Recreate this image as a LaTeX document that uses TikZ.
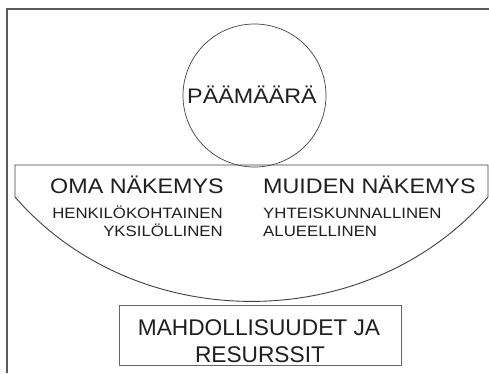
\documentclass[tikz,border=0pt]{standalone}
\usepackage{fontspec}
\setmainfont{Liberation Sans}
\begin{document}
\begin{tikzpicture}[x=1pt,y=-1pt,
  lbl/.style={inner sep=0pt, text=black!88},
  big/.style={lbl, font=\fontsize{21}{24}\selectfont},
  small/.style={lbl, font=\fontsize{15}{18}\selectfont},
  boxtxt/.style={lbl, font=\fontsize{22.7}{27}\selectfont},
  frameline/.style={line width=2pt, black!65},
  shapeline/.style={line width=0.9pt, black!75}]
\useasboundingbox (0,0) rectangle (489,373);
\fill[white] (0,0) rectangle (489,373);
% outer frame
\coordinate (fTL) at (7,9);
\coordinate (fTR) at (489,9);
\coordinate (fBL) at (7,373);
\draw[frameline] (fTR) -- (fTL) -- (fBL);
% bowl
\coordinate (bTL) at (15,165);
\coordinate (bTR) at (488,165);
\coordinate (bL) at (15,197);
\coordinate (bR) at (488,197);
\draw[shapeline, line join=miter] (bL) -- (bTL) -- (bTR) -- (bR) to[bend left=49] (bL);
% goal circle
\node[circle, draw, shapeline, line width=0.7pt, minimum size=143pt, inner sep=0pt] (goal) at (254.5,95.5) {};
\node[big, anchor=base] (goalt) at (252,103) {\scalebox{1.11}[1]{PÄÄMÄÄRÄ}};
% views
\node[big, anchor=base west] (oma) at (50,193) {\scalebox{1.11}[1]{OMA NÄKEMYS}};
\node[big, anchor=base west] (muiden) at (263,193) {\scalebox{1.11}[1]{MUIDEN NÄKEMYS}};
\node[small, anchor=base east] (henk) at (223,218) {\scalebox{1.12}[1]{HENKILÖKOHTAINEN}};
\node[small, anchor=base east] (yksi) at (223,236) {\scalebox{1.12}[1]{YKSILÖLLINEN}};
\node[small, anchor=base west] (yht) at (263,218) {\scalebox{1.12}[1]{YHTEISKUNNALLINEN}};
\node[small, anchor=base west] (alue) at (263,236) {\scalebox{1.12}[1]{ALUEELLINEN}};
% resources box
\node[draw, line width=0.8pt, black!60, minimum width=282pt, minimum height=60pt, inner sep=0pt] (res) at (260,335) {};
\node[boxtxt, anchor=base] (res1) at (259,335) {MAHDOLLISUUDET JA};
\node[boxtxt, anchor=base] (res2) at (260,362) {RESURSSIT};
\end{tikzpicture}
\end{document}
